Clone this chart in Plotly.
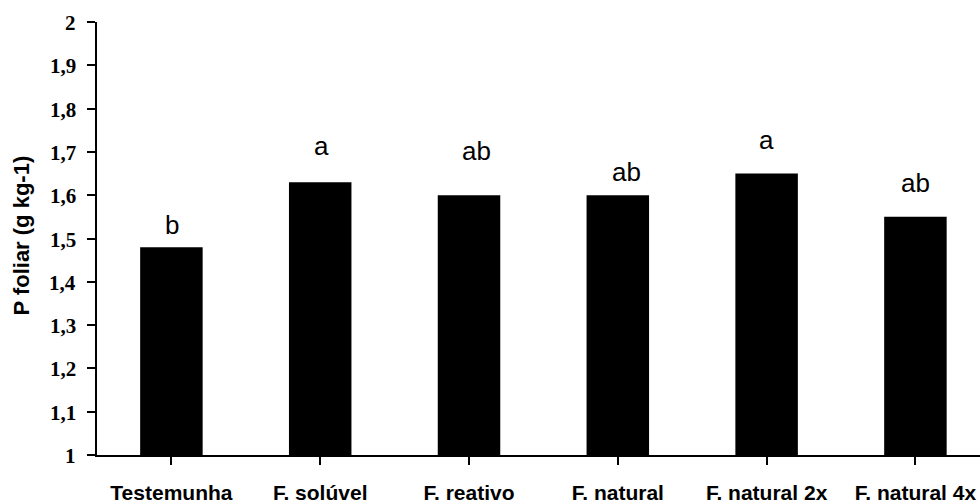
import plotly.graph_objects as go

# Leaf phosphorus by treatment
categories = ["Testemunha", "F. solúvel", "F. reativo", "F. natural", "F. natural 2x", "F. natural 4x"]
p_foliar = [1.48, 1.63, 1.60, 1.60, 1.65, 1.55]

# Mean-comparison letters and where they sit (g kg-1)
letters = ["b", "a", "ab", "ab", "a", "ab"]
letter_y = [1.508, 1.691, 1.679, 1.630, 1.705, 1.604]
letter_xshift = [1, 1, 7, 9, 0, 0]

# Y axis ticks with comma decimals
y_tickvals = [1.0, 1.1, 1.2, 1.3, 1.4, 1.5, 1.6, 1.7, 1.8, 1.9, 2.0]
y_ticktext = ["1", "1,1", "1,2", "1,3", "1,4", "1,5", "1,6", "1,7", "1,8", "1,9", "2"]
y_title = "P foliar (g kg-1)"

fig = go.Figure()
fig.add_trace(go.Bar(
    x=list(range(len(categories))),
    y=p_foliar,
    marker=dict(color="black", line=dict(width=0)),
    hoverinfo="skip",
))

for i, (lab, ly, dx) in enumerate(zip(letters, letter_y, letter_xshift)):
    fig.add_annotation(
        x=i, y=ly, text=lab, showarrow=False,
        xanchor="center", yanchor="bottom", xshift=dx, yshift=-7,
        font=dict(family="Liberation Sans, Arial", size=26, color="black"),
    )

# Y tick labels set in a bold serif face, placed left of the tick marks
for v, t in zip(y_tickvals, y_ticktext):
    fig.add_annotation(
        x=0, xref="paper", y=v, yref="y", text=t, showarrow=False,
        xanchor="right", yanchor="middle", xshift=-19, yshift=-1,
        font=dict(family="Liberation Serif, Times New Roman", size=21, color="black", weight="bold"),
    )

# Rotated y axis title
fig.add_annotation(
    x=0, xref="paper", y=0.5, yref="paper", text=y_title, showarrow=False,
    textangle=-90, xanchor="center", yanchor="middle", xshift=-76, yshift=3,
    font=dict(family="Liberation Sans, Arial", size=22, color="black", weight="bold"),
)

fig.update_layout(
    width=980, height=504,
    margin=dict(l=97, r=0, t=22, b=43),
    paper_bgcolor="white", plot_bgcolor="white",
    bargap=0.58, showlegend=False,
    xaxis=dict(
        range=[-0.5, 5.434],
        tickmode="array",
        tickvals=list(range(len(categories))),
        ticktext=categories,
        tickson="boundaries",
        ticks="outside", ticklen=8, tickwidth=2, tickcolor="black",
        showline=True, linecolor="black", linewidth=2,
        showgrid=False, zeroline=False,
        tickfont=dict(family="Liberation Sans, Arial", size=21, color="black", weight="bold"),
        ticklabelstandoff=10,
    ),
    yaxis=dict(
        range=[1, 2],
        tickmode="array",
        tickvals=y_tickvals,
        showticklabels=False,
        ticks="outside", ticklen=8, tickwidth=2, tickcolor="black",
        showline=True, linecolor="black", linewidth=2,
        showgrid=False, zeroline=False,
    ),
)

fig.write_html("out.html")
